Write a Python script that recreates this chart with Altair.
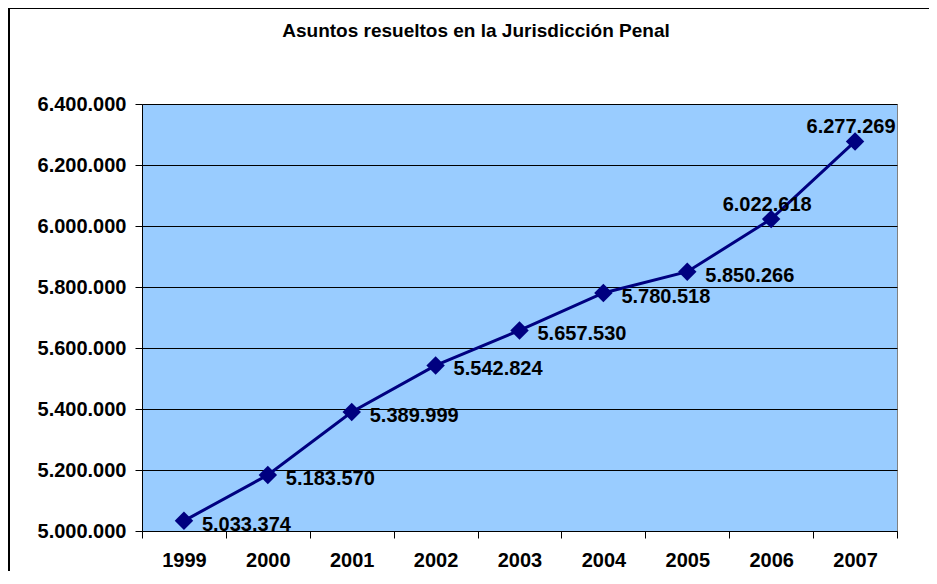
import altair as alt
import pandas as pd

years = ["1999", "2000", "2001", "2002", "2003", "2004", "2005", "2006", "2007"]
values = [5033374, 5183570, 5389999, 5542824, 5657530, 5780518, 5850266, 6022618, 6277269]
y_ticks = [5000000, 5200000, 5400000, 5600000, 5800000, 6000000, 6200000, 6400000]
title_text = "Asuntos resueltos en la Jurisdicción Penal"

right_years = years[:7]
top_years = years[7:]

FONT = "Liberation Sans"

df = pd.DataFrame({"year": years, "value": values})
one = pd.DataFrame({"t": [title_text]})

x_enc = alt.X(
    "year:N",
    sort=years,
    scale=alt.Scale(paddingInner=0, paddingOuter=0),
    axis=alt.Axis(
        title=None, labelAngle=0, tickBand="extent", tickSize=7,
        tickColor="black", domainColor="black", labelFont=FONT,
        labelFontSize=20, labelFontWeight="bold", labelColor="black",
        labelPadding=12, grid=False,
    ),
)
y_enc = alt.Y(
    "value:Q",
    scale=alt.Scale(domain=[y_ticks[0], y_ticks[-1]], nice=False, zero=False),
    axis=alt.Axis(
        title=None, values=y_ticks, format=",d", tickSize=7, tickColor="black",
        domainColor="black", gridColor="black", gridWidth=1, labelFont=FONT,
        labelFontSize=20, labelFontWeight="bold", labelColor="black",
        labelPadding=9,
    ),
)

base = alt.Chart(df).encode(x=x_enc, y=y_enc)

line = base.mark_line(color="#000080", strokeWidth=3)
points = base.mark_point(shape="diamond", filled=True, size=340, color="#000080", opacity=1)

text_right = base.transform_filter(
    alt.FieldOneOfPredicate(field="year", oneOf=right_years)
).mark_text(
    align="left", baseline="middle", dx=18, dy=4, font=FONT, fontSize=20,
    fontWeight="bold", color="black",
).encode(text=alt.Text("value:Q", format=",d"))

text_top = base.transform_filter(
    alt.FieldOneOfPredicate(field="year", oneOf=top_years)
).mark_text(
    align="center", baseline="middle", dx=-4, dy=-14, font=FONT, fontSize=20,
    fontWeight="bold", color="black",
).encode(text=alt.Text("value:Q", format=",d"))

title = alt.Chart(one).mark_text(
    align="center", baseline="middle", font=FONT, fontSize=19,
    fontWeight="bold", color="black",
).encode(x=alt.value(334), y=alt.value(-73), text="t:N")

frame_left = alt.Chart(one).mark_rule(color="black", strokeWidth=2).encode(
    x=alt.value(-133), y=alt.value(-96), y2=alt.value(480)
)
frame_top = alt.Chart(one).mark_rule(color="black", strokeWidth=2).encode(
    x=alt.value(-133), x2=alt.value(800), y=alt.value(-96)
)

chart = alt.layer(
    line, points, text_right, text_top, title, frame_left, frame_top
).properties(
    width=755,
    height=427,
    padding={"left": 134, "top": 96, "right": 32, "bottom": 40},
    autosize=alt.AutoSizeParams(type="none"),
    background="white",
).configure_view(
    fill="#99CCFF", stroke="#808080", strokeWidth=1
)

chart.save(
    "out.html",
    embed_options={
        "renderer": "svg",
        "actions": False,
        "formatLocale": {
            "decimal": ",",
            "thousands": ".",
            "grouping": [3],
            "currency": ["", " €"],
        },
    },
)
